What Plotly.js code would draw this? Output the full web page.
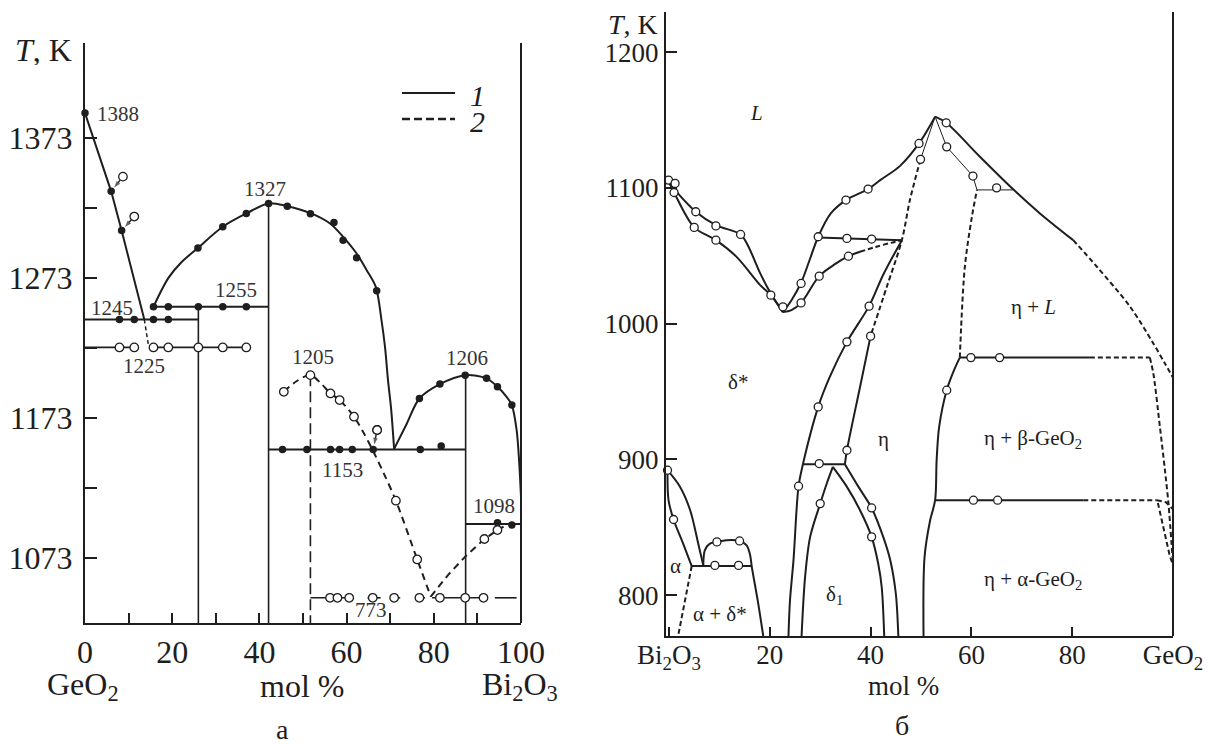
<!DOCTYPE html>
<html><head><meta charset="utf-8">
<script src="https://cdn.plot.ly/plotly-3.0.1.min.js"></script>
<style>html,body{margin:0;padding:0;background:#fff}#chart{width:1215px;height:744px}</style>
</head><body><div id="chart"></div>
<script>
// ================= Panel а : GeO2 – Bi2O3 (x = mol % Bi2O3, T in K) =================
const aXTickVals = [0, 20, 40, 60, 80, 100];
const aXTickText = ['0', '20', '40', '60', '80', '100'];
const aXMinorVals = [10, 30, 50, 70, 90];
const aYTickVals = [1073, 1173, 1273, 1373];
const aYTickText = ['1073', '1173', '1273', '1373'];
const aYMinorVals = [1123, 1223, 1323];
const aXRange = [0, 100];
const aYRange = [1026.6, 1441];

const aLiq1X = [0, 6.0, 8.4, 13.6];
const aLiq1T = [1391, 1335, 1307, 1243.5];
const aLiq1DotX = [0, 6.0, 8.4];
const aLiq1DotT = [1391, 1335, 1307];
const aMetaEutX = [13.6, 14.5];
const aMetaEutT = [1243.5, 1226];
const aArrowFromX = [8.7, 11.3, 67.0];
const aArrowFromT = [1345.5, 1317, 1164.5];
const aArrowToX = [6.0, 8.4, 66.1];
const aArrowToT = [1335, 1307, 1150.5];

const aEut1245X = [0, 26.0];
const aEut1245T = 1243.5;
const aEut1245DotX = [7.9, 11.3, 15.7, 19.1];
const aLine1255X = [15.7, 42.1];
const aLine1255T = 1252.5;
const aLine1255DotX = [15.7, 19.1, 26.0, 31.6, 37.0];
const aLine1225X = [0, 11.6, null, 15.4, 37.0];
const aLine1225T = 1223.5;
const aLine1225CircX = [7.9, 11.3, 15.7, 19.1, 26.0, 31.6, 37.0];

const aVertX = [26.0, 42.1, 87.3];
const aVertTopT = [1252.5, 1326.4, 1204];
const aDashVertX = 51.7;
const aDashVertTopT = 1203.7;

const aDome1X = [15.7, 19.1, 22.0, 25.9, 31.6, 37.0, 42.1, 46.4, 51.6, 56.2, 59.2, 62.3, 64.6, 66.7, 68.0, 68.8, 69.5, 70.2, 70.9];
const aDome1T = [1252.5, 1273, 1284, 1294.6, 1309.7, 1319.2, 1326.4, 1324.4, 1319.6, 1312, 1302.5, 1290.6, 1278.7, 1266.8, 1243, 1224, 1200, 1180, 1151];
const aDome1DotX = [25.9, 31.6, 37.0, 42.1, 46.4, 51.7, 57.1, 59.2, 62.3, 66.9];
const aDome1DotT = [1294.6, 1309.7, 1319.2, 1326.4, 1324.4, 1319, 1312.8, 1300, 1287.5, 1264];

const aLine1153X = [42.1, 87.3];
const aLine1153T = 1150.5;
const aLine1153DotX = [45.3, 50.9, 56.3, 58.4, 61.3, 66.1, 76.9, 81.7];
const aLine1153DotT = [1150.5, 1150.5, 1150.5, 1150.5, 1150.5, 1150.5, 1150.5, 1153];

const aDome2X = [70.9, 73.8, 76.7, 81.4, 87.2, 92.1, 94.6, 96.7, 97.9, 99.0, 99.6, 100.2];
const aDome2T = [1151, 1169, 1187, 1197.3, 1203.7, 1201.4, 1195.4, 1188.2, 1182.3, 1164.4, 1140.6, 1103];
const aDome2DotX = [76.7, 81.4, 87.2, 92.1, 94.6, 97.9];
const aDome2DotT = [1187, 1197.3, 1203.7, 1201.4, 1195.4, 1182.3];

const aLine1098X = [87.3, 100];
const aLine1098T = 1097.3;
const aLine1098DotX = [94.6, 97.9, 100.3];
const aLine1098DotT = [1098.2, 1096.6, 1103];

const aMetaDomeX = [45.6, 48.6, 51.7, 54.2, 56.3, 58.4, 61.7, 63.8, 66.0, 68.6, 71.3, 76.2, 79.3];
const aMetaDomeT = [1191.8, 1199.5, 1203.7, 1197.5, 1190.6, 1185.9, 1174, 1163, 1150, 1133, 1114, 1072, 1045.5];
const aMetaRiseX = [79.3, 83.3, 87.2, 91.6, 94.6, 96.0];
const aMetaRiseT = [1045.5, 1061, 1074, 1086.6, 1093, 1095.5];
const aMetaCircX = [45.6, 51.7, 56.3, 58.4, 61.7, 67.0, 71.3, 76.2, 91.6, 94.6];
const aMetaCircT = [1191.8, 1203.7, 1190.6, 1185.9, 1174, 1164.5, 1114, 1072, 1086.6, 1093];

const aLine773X = [51.7, 61.0, null, 64.8, 67.8, null, 70.9, 72.3, null, 76.7, 78.0, null, 79.6, 92.3, null, 94.0, 99.0];
const aLine773T = 1044.6;
const aLine773CircX = [56.2, 57.9, 60.6, 66.0, 70.9, 76.7, 81.4, 87.2, 91.4];

const aLabelText = ['1388', '1327', '1245', '1255', '1225', '1205', '1153', '1206', '1098', '773'];
const aLabelX = [7.5, 41.3, 6.1, 34.6, 13.6, 52.2, 59.1, 87.7, 93.7, 65.6];
const aLabelT = [1390, 1336.6, 1252, 1264.4, 1210.4, 1216.8, 1135.9, 1216.2, 1110, 1035.9];
const aLegendText = ['<i>1</i>', '<i>2</i>'];

// ================= Panel б : Bi2O3 – GeO2 (x = mol % GeO2, T in K) =================
const bXTickVals = [0, 20, 40, 60, 80, 100];
const bXTickText = ['Bi<sub>2</sub>O<sub>3</sub>', '20', '40', '60', '80', 'GeO<sub>2</sub>'];
const bYTickVals = [800, 900, 1000, 1100, 1200];
const bYTickText = ['800', '900', '1000', '1100', '1200'];
const bXRange = [-0.6, 100];
const bYRange = [770, 1229.5];

const bLiqLX = [0, 1.5, 5.3, 9.3, 14.2, 15.6, 18.1, 20.2, 22.6];
const bLiqLT = [1104, 1097, 1082.4, 1072.6, 1065.7, 1058, 1037, 1022.2, 1008.5];
const bSolLX = [0, 1.0, 5.0, 9.3, 13.4, 18.1, 20.2, 22.6];
const bSolLT = [1104, 1096.6, 1070.9, 1061.5, 1049.2, 1028.4, 1021, 1008.5];
const bLeftCircX = [-0.1, 1.2, 1.0, 5.3, 9.3, 14.2, 5.0, 9.3, 20.2, 22.6];
const bLeftCircT = [1105.7, 1103.3, 1096.6, 1082.4, 1072, 1065.7, 1070.9, 1061.5, 1021, 1012.4];

const bLiqRX = [22.6, 24.3, 26.2, 28.0, 29.6, 32.1, 35.1, 39.5, 41.9, 45.8, 49.6, 52.8];
const bLiqRT = [1008.5, 1017.3, 1030.1, 1048, 1064, 1081.2, 1091, 1099.1, 1105.7, 1116, 1132.7, 1152.4];
const bLiqRCircX = [26.2, 29.6, 35.1, 39.5, 49.6];
const bLiqRCircT = [1029.6, 1064, 1091, 1099.1, 1132.7];

const bSolRX = [22.6, 24.3, 26.2, 29.8, 33.0, 35.6, 37.9];
const bSolRT = [1008.5, 1010, 1015.3, 1035, 1044, 1049.7, 1052.9];
const bSolRDashX = [37.9, 41.0, 44.0, 46.2];
const bSolRDashT = [1052.9, 1056.5, 1059.5, 1061.5];
const bSolRCircX = [26.2, 29.8, 35.6];
const bSolRCircT = [1015.3, 1035, 1049.7];

const b1062X = [29.6, 46.2];
const b1062T = [1063.5, 1061.5];
const b1062CircX = [35.3, 40.2];
const b1062CircT = [1062.8, 1062.3];

const bAX = [46.2, 42.5, 39.7, 35.3, 31.9, 29.6, 26.6, 25.7, 24.7, 24.0, 23.7];
const bAT = [1061.5, 1036, 1012.9, 986.6, 960.8, 938.7, 897, 880.3, 826, 796, 770];
const bACircX = [39.7, 35.3, 29.6, 25.7];
const bACircT = [1012.9, 986.6, 938.7, 880.3];

const bBThinX = [52.8, 49.9];
const bBThinT = [1152.4, 1121];
const bBDashX = [49.9, 47.8, 46.2, 43.2, 40.0];
const bBDashT = [1121, 1091, 1061.5, 1027, 991];
const bBSolX = [40.0, 37.9, 35.3, 34.9];
const bBSolT = [991, 953.4, 906.8, 896.5];
const bBCircX = [49.9, 40.0, 35.3];
const bBCircT = [1121, 990.8, 906.8];

const b897X = [26.6, 34.9];
const b897T = 896.5;
const b897CircX = [29.8];
const b897CircT = [897];

const bD1LX = [32.5, 31.3, 30.0, 28.0, 27.0, 26.3];
const bD1LT = [894.5, 882.3, 867.5, 843, 813.5, 770];
const bD1RX = [32.5, 35.3, 37.9, 40.2, 41.5, 42.2, 42.7];
const bD1RT = [894.5, 879.8, 862.6, 843, 823.4, 806.1, 770];
const bOutRX = [34.9, 37.6, 40.2, 42.5, 43.9, 45.0, 45.5];
const bOutRT = [896.5, 879.8, 864.3, 843, 825.8, 801.3, 770];
const bD1CircX = [30.0, 40.2, 40.2];
const bD1CircT = [867.5, 843, 864.3];

const bEtaRX = [57.7, 56.7, 55.1, 53.6, 53.1, 52.8, 51.8, 50.7, 50.5];
const bEtaRT = [975, 967, 951, 924, 899.5, 870, 855, 828, 770];
const bEtaRCircX = [55.1];
const bEtaRCircT = [951];
const bEtaDashX = [57.7, 58.7, 60.1, 61.1];
const bEtaDashT = [975, 1042, 1078.7, 1098.5];

const bThinRX = [52.8, 55.1, 60.3, 61.1];
const bThinRT = [1152.4, 1130.2, 1108.7, 1098.5];
const bThinRCircX = [55.1, 60.3];
const bThinRCircT = [1130.2, 1108.7];
const b1098X = [61.1, 68.3];
const b1098T = 1098.5;
const b1098CircX = [65.0];
const b1098CircT = [1100];

const bLiqRRX = [52.8, 55.0, 61.7, 68.3, 73.6, 80.2];
const bLiqRRT = [1152.4, 1147.9, 1122.9, 1098.9, 1081.2, 1061.5];
const bLiqRRDashX = [80.2, 84.9, 91.5, 96.1, 98.4, 100.2];
const bLiqRRDashT = [1061.5, 1041.9, 1012.4, 985.4, 970.7, 958.9];
const bLiqRRCircX = [55.0, 100.2];
const bLiqRRCircT = [1147.9, 958.9];

const b975X = [57.7, 83.5];
const b975DashX = [83.5, 95.4];
const b975T = 975;
const b975CircX = [59.9, 65.6];
const b870X = [52.8, 82.2];
const b870DashX = [82.2, 96.8];
const b870T = 870;
const b870CircX = [60.4, 65.2];

const bGeDash1X = [95.4, 96.1, 97.4, 98.4, 99.1, 99.9];
const bGeDash1T = [975, 963.3, 924, 892.1, 867.5, 828.2];
const bGeDash2X = [96.8, 98.6, 100.2];
const bGeDash2T = [870, 868.5, 862.6];
const bGeDash3X = [97.0, 98.2, 99.3, 100];
const bGeDash3T = [868, 848, 830, 822];
const bGeCircX = [100.2];
const bGeCircT = [862.6];

const bAlOutX = [-0.3, 2.2, 4.2, 5.8, 6.8];
const bAlOutT = [892.1, 879.8, 862.6, 838, 822];
const bAlInX = [-0.3, -0.1, 0.9, 2.8, 4.5];
const bAlInT = [892.1, 870, 855.8, 838, 821.5];
const bAlCircX = [-0.3, 0.9];
const bAlCircT = [892.1, 855.8];
const b821X = [4.5, 16.4];
const b821T = 821.5;
const b821CircX = [9.1, 13.8];
const b821CircT = [822, 822];
const bHumpX = [6.8, 7.1, 8.1, 9.5, 11.4, 14.0, 15.4, 16.1, 16.4, 17.7, 18.7];
const bHumpT = [822, 833.1, 838, 839.3, 840.5, 840, 836.8, 829.5, 821.5, 793.9, 770];
const bHumpCircX = [9.5, 14.0];
const bHumpCircT = [839.3, 840];
const bAlDashX = [4.5, 3.2, 1.8];
const bAlDashT = [821.5, 796.3, 770];

const bLabelText = ['<i>L</i>', 'δ*', 'η', 'δ<sub>1</sub>', 'α', 'α + δ*', 'η + <i>L</i>', 'η + β-GeO<sub>2</sub>', 'η + α-GeO<sub>2</sub>'];
const bLabelX = [17.4, 13.75, 42.5, 32.9, 1.2, 10.1, 72.3, 72.3, 72.3];
const bLabelT = [1154.8, 957.1, 915.4, 800, 821.4, 786.5, 1012.4, 915.4, 811];

// ================= drawing helpers =================
const SER = 'Liberation Serif';
const INK = '#1e1e1e';
const DASH_A = '7px,5px';
const DASH_A_VERT = '11px,5px';
const DASH_B = '5px,3px';
const axes = p => p === 'a' ? {xaxis: 'x', yaxis: 'y'} : {xaxis: 'x2', yaxis: 'y2'};
const fill = (xs, t) => xs.map(v => v === null ? null : t);

function ln(p, x, y, o = {}) {
  return Object.assign({
    type: 'scatter', mode: 'lines', x: x, y: y,
    line: {color: INK, width: o.w || 2, dash: o.dash || 'solid', shape: o.spline ? 'spline' : 'linear', smoothing: o.spline ? 0.9 : 1},
    hoverinfo: 'skip', showlegend: false, connectgaps: false
  }, axes(p));
}
function mk(p, x, y, filled, size) {
  return Object.assign({
    type: 'scatter', mode: 'markers', x: x, y: y, cliponaxis: false,
    marker: {symbol: 'circle', size: size || (filled ? 7.5 : 8.5), color: filled ? INK : '#ffffff',
             line: {color: INK, width: filled ? 0 : 1.3}},
    hoverinfo: 'skip', showlegend: false
  }, axes(p));
}

const traces = [];
// ---- panel а
traces.push(ln('a', aLiq1X, aLiq1T));
traces.push(ln('a', aMetaDomeX, aMetaDomeT, {dash: DASH_A, spline: true}));
traces.push(ln('a', aMetaRiseX, aMetaRiseT, {dash: DASH_A}));
traces.push(ln('a', aMetaEutX, aMetaEutT, {dash: '4px,3px', w: 1.5}));
traces.push(ln('a', aEut1245X, fill(aEut1245X, aEut1245T)));
traces.push(ln('a', aLine1255X, fill(aLine1255X, aLine1255T)));
traces.push(ln('a', aLine1225X, fill(aLine1225X, aLine1225T), {w: 1.6}));
aVertX.forEach((xv, i) => traces.push(ln('a', [xv, xv], [aVertTopT[i], aYRange[0]], {w: 1.6})));
traces.push(ln('a', [aDashVertX, aDashVertX], [aDashVertTopT, aYRange[0]], {dash: DASH_A_VERT, w: 1.6}));
traces.push(ln('a', aDome1X, aDome1T, {spline: true}));
traces.push(ln('a', aLine1153X, fill(aLine1153X, aLine1153T)));
traces.push(ln('a', aDome2X, aDome2T, {spline: true}));
traces.push(ln('a', aLine1098X, fill(aLine1098X, aLine1098T)));
traces.push(ln('a', aLine773X, fill(aLine773X, aLine773T), {w: 1.6}));
// small arrows: open (repeated) point -> filled point
aArrowFromX.forEach((xf, i) => {
  const tf = aArrowFromT[i], xt = aArrowToX[i], tt = aArrowToT[i];
  const k0 = 0.24, k1 = 0.26;
  traces.push(Object.assign({
    type: 'scatter', mode: 'lines+markers',
    x: [xf + (xt - xf) * k0, xt + (xf - xt) * k1], y: [tf + (tt - tf) * k0, tt + (tf - tt) * k1],
    line: {color: INK, width: 1.4}, cliponaxis: false,
    marker: {symbol: ['circle', 'arrow'], size: [0, 7], angleref: 'previous', color: INK, line: {width: 0}},
    hoverinfo: 'skip', showlegend: false
  }, axes('a')));
});
traces.push(mk('a', aLiq1DotX, aLiq1DotT, true));
traces.push(mk('a', aEut1245DotX, fill(aEut1245DotX, aEut1245T), true));
traces.push(mk('a', aLine1255DotX, fill(aLine1255DotX, aLine1255T), true));
traces.push(mk('a', aDome1DotX, aDome1DotT, true));
traces.push(mk('a', aLine1153DotX, aLine1153DotT, true));
traces.push(mk('a', aDome2DotX, aDome2DotT, true));
traces.push(mk('a', aLine1098DotX, aLine1098DotT, true));
traces.push(mk('a', aLine1225CircX, fill(aLine1225CircX, aLine1225T), false));
traces.push(mk('a', aMetaCircX, aMetaCircT, false));
traces.push(mk('a', aLine773CircX, fill(aLine773CircX, aLine773T), false));
traces.push(mk('a', aArrowFromX, aArrowFromT, false));

// ---- panel б
traces.push(ln('b', bLiqLX, bLiqLT, {spline: true}));
traces.push(ln('b', bSolLX, bSolLT, {spline: true}));
traces.push(ln('b', bLiqRX, bLiqRT, {spline: true}));
traces.push(ln('b', bSolRX, bSolRT, {spline: true}));
traces.push(ln('b', bSolRDashX, bSolRDashT, {dash: DASH_B, spline: true}));
traces.push(ln('b', b1062X, b1062T));
traces.push(ln('b', bAX, bAT, {spline: true}));
traces.push(ln('b', bBThinX, bBThinT, {w: 1}));
traces.push(ln('b', bBDashX, bBDashT, {dash: DASH_B, spline: true}));
traces.push(ln('b', bBSolX, bBSolT, {spline: true}));
traces.push(ln('b', b897X, fill(b897X, b897T)));
traces.push(ln('b', bD1LX, bD1LT, {spline: true}));
traces.push(ln('b', bD1RX, bD1RT, {spline: true}));
traces.push(ln('b', bOutRX, bOutRT, {spline: true}));
traces.push(ln('b', bEtaRX, bEtaRT, {spline: true}));
traces.push(ln('b', bEtaDashX, bEtaDashT, {dash: DASH_B, spline: true}));
traces.push(ln('b', bThinRX, bThinRT, {w: 1}));
traces.push(ln('b', b1098X, fill(b1098X, b1098T), {w: 1}));
traces.push(ln('b', bLiqRRX, bLiqRRT, {spline: true}));
traces.push(ln('b', bLiqRRDashX, bLiqRRDashT, {dash: DASH_B, spline: true}));
traces.push(ln('b', b975X, fill(b975X, b975T)));
traces.push(ln('b', b975DashX, fill(b975DashX, b975T), {dash: DASH_B}));
traces.push(ln('b', b870X, fill(b870X, b870T)));
traces.push(ln('b', b870DashX, fill(b870DashX, b870T), {dash: DASH_B}));
traces.push(ln('b', bGeDash1X, bGeDash1T, {dash: DASH_B, spline: true}));
traces.push(ln('b', bGeDash2X, bGeDash2T, {dash: DASH_B}));
traces.push(ln('b', bGeDash3X, bGeDash3T, {dash: DASH_B}));
traces.push(ln('b', bAlOutX, bAlOutT, {spline: true}));
traces.push(ln('b', bAlInX, bAlInT, {spline: true}));
traces.push(ln('b', b821X, fill(b821X, b821T)));
traces.push(ln('b', bHumpX, bHumpT, {spline: true}));
traces.push(ln('b', bAlDashX, bAlDashT, {dash: DASH_B}));
[[bLeftCircX, bLeftCircT], [bLiqRCircX, bLiqRCircT], [bSolRCircX, bSolRCircT], [b1062CircX, b1062CircT],
 [bACircX, bACircT], [bBCircX, bBCircT], [b897CircX, b897CircT], [bD1CircX, bD1CircT],
 [bEtaRCircX, bEtaRCircT], [bThinRCircX, bThinRCircT], [b1098CircX, b1098CircT], [bLiqRRCircX, bLiqRRCircT],
 [b975CircX, fill(b975CircX, b975T)], [b870CircX, fill(b870CircX, b870T)], [bGeCircX, bGeCircT],
 [bAlCircX, bAlCircT], [b821CircX, b821CircT], [bHumpCircX, bHumpCircT]
].forEach(([x, y]) => traces.push(mk('b', x, y, false, 8)));

// ================= annotations =================
const W = 1215, H = 744;
const px = v => v / W, py = v => 1 - v / H;
const annotations = [];
aLabelText.forEach((t, i) => annotations.push({
  text: t, x: aLabelX[i], y: aLabelT[i], xref: 'x', yref: 'y', showarrow: false,
  font: {family: SER, size: 21, color: '#333'}, xanchor: 'center', yanchor: 'middle'
}));
bLabelText.forEach((t, i) => annotations.push({
  text: t, x: bLabelX[i], y: bLabelT[i], xref: 'x2', yref: 'y2', showarrow: false,
  font: {family: SER, size: 21, color: INK}, xanchor: 'center', yanchor: 'middle'
}));
// line-style key of panel а
const legendY = [93, 119];
aLegendText.forEach((t, i) => annotations.push({
  text: t, x: px(468), y: py(legendY[i] + 2), xref: 'paper', yref: 'paper', showarrow: false,
  font: {family: SER, size: 30, color: INK}, xanchor: 'left', yanchor: 'middle', height: 24, valign: 'middle'
}));
const paperText = [
  ['<i>T</i>, K', 74, 50, 32, 'right'],
  ['GeO<sub>2</sub>', 83, 686, 32, 'center'],
  ['mol %', 302, 686, 32, 'center'],
  ['Bi<sub>2</sub>O<sub>3</sub>', 520, 686, 32, 'center'],
  ['а', 282, 729, 28, 'center'],
  ['<i>T</i>, K', 660, 25, 28, 'right'],
  ['mol %', 903, 686, 27, 'center'],
  ['б', 902, 725, 28, 'center']
];
paperText.forEach(([t, x, y, s, xa]) => annotations.push({
  text: t, x: px(x), y: py(y), xref: 'paper', yref: 'paper', showarrow: false,
  font: {family: SER, size: s, color: INK}, xanchor: xa, yanchor: 'middle', height: Math.round(s * 0.95), valign: 'middle'
}));

// ================= layout =================
function axisStyle(extra) {
  return Object.assign({
    showline: true, linewidth: 2, linecolor: INK, ticks: 'inside', tickwidth: 2, tickcolor: INK,
    showgrid: false, zeroline: false, fixedrange: true, tickmode: 'array'
  }, extra);
}
const layout = {
  width: W, height: H, margin: {l: 0, r: 0, t: 0, b: 0},
  paper_bgcolor: '#fff', plot_bgcolor: '#fff',
  font: {family: SER, color: INK},
  showlegend: false,
  xaxis: axisStyle({domain: [85 / W, 521 / W], range: aXRange, tickvals: aXTickVals, ticktext: aXTickText,
    ticklen: 10, tickfont: {family: SER, size: 32, color: INK}, ticklabelstandoff: 0, anchor: 'y',
    minor: {tickmode: 'array', tickvals: aXMinorVals, ticks: 'inside', ticklen: 10, tickwidth: 2, tickcolor: INK, showgrid: false}}),
  yaxis: axisStyle({domain: [1 - 623 / H, 1 - 43 / H], range: aYRange, tickvals: aYTickVals, ticktext: aYTickText,
    ticklen: 12, tickfont: {family: SER, size: 32, color: INK}, ticklabelstandoff: 4, anchor: 'x',
    minor: {tickmode: 'array', tickvals: aYMinorVals, ticks: 'inside', ticklen: 12, tickwidth: 2, tickcolor: INK, showgrid: false}}),
  xaxis2: axisStyle({domain: [666 / W, 1173 / W], range: bXRange, tickvals: bXTickVals, ticktext: bXTickText,
    ticklen: 9, tickfont: {family: SER, size: 27, color: INK}, ticklabelstandoff: -6, anchor: 'y2'}),
  yaxis2: axisStyle({domain: [1 - 636 / H, 1 - 12 / H], range: bYRange, tickvals: bYTickVals, ticktext: bYTickText,
    ticklen: 11, tickfont: {family: SER, size: 27, color: INK}, ticklabelstandoff: 0, anchor: 'x2'}),
  shapes: [
    {type: 'line', xref: 'x domain', yref: 'y domain', x0: 1, x1: 1, y0: 0, y1: 1, line: {color: INK, width: 2}},
    {type: 'line', xref: 'x2 domain', yref: 'y2 domain', x0: 1, x1: 1, y0: 0, y1: 1, line: {color: INK, width: 2}},
    {type: 'line', xref: 'paper', yref: 'paper', x0: px(402), x1: px(455), y0: py(legendY[0]), y1: py(legendY[0]), line: {color: INK, width: 2}},
    {type: 'line', xref: 'paper', yref: 'paper', x0: px(402), x1: px(455), y0: py(legendY[1]), y1: py(legendY[1]), line: {color: INK, width: 2.5, dash: '8px,4px'}}
  ],
  annotations: annotations
};
Plotly.newPlot('chart', traces, layout, {staticPlot: true, displayModeBar: false});
</script>
</body></html>
